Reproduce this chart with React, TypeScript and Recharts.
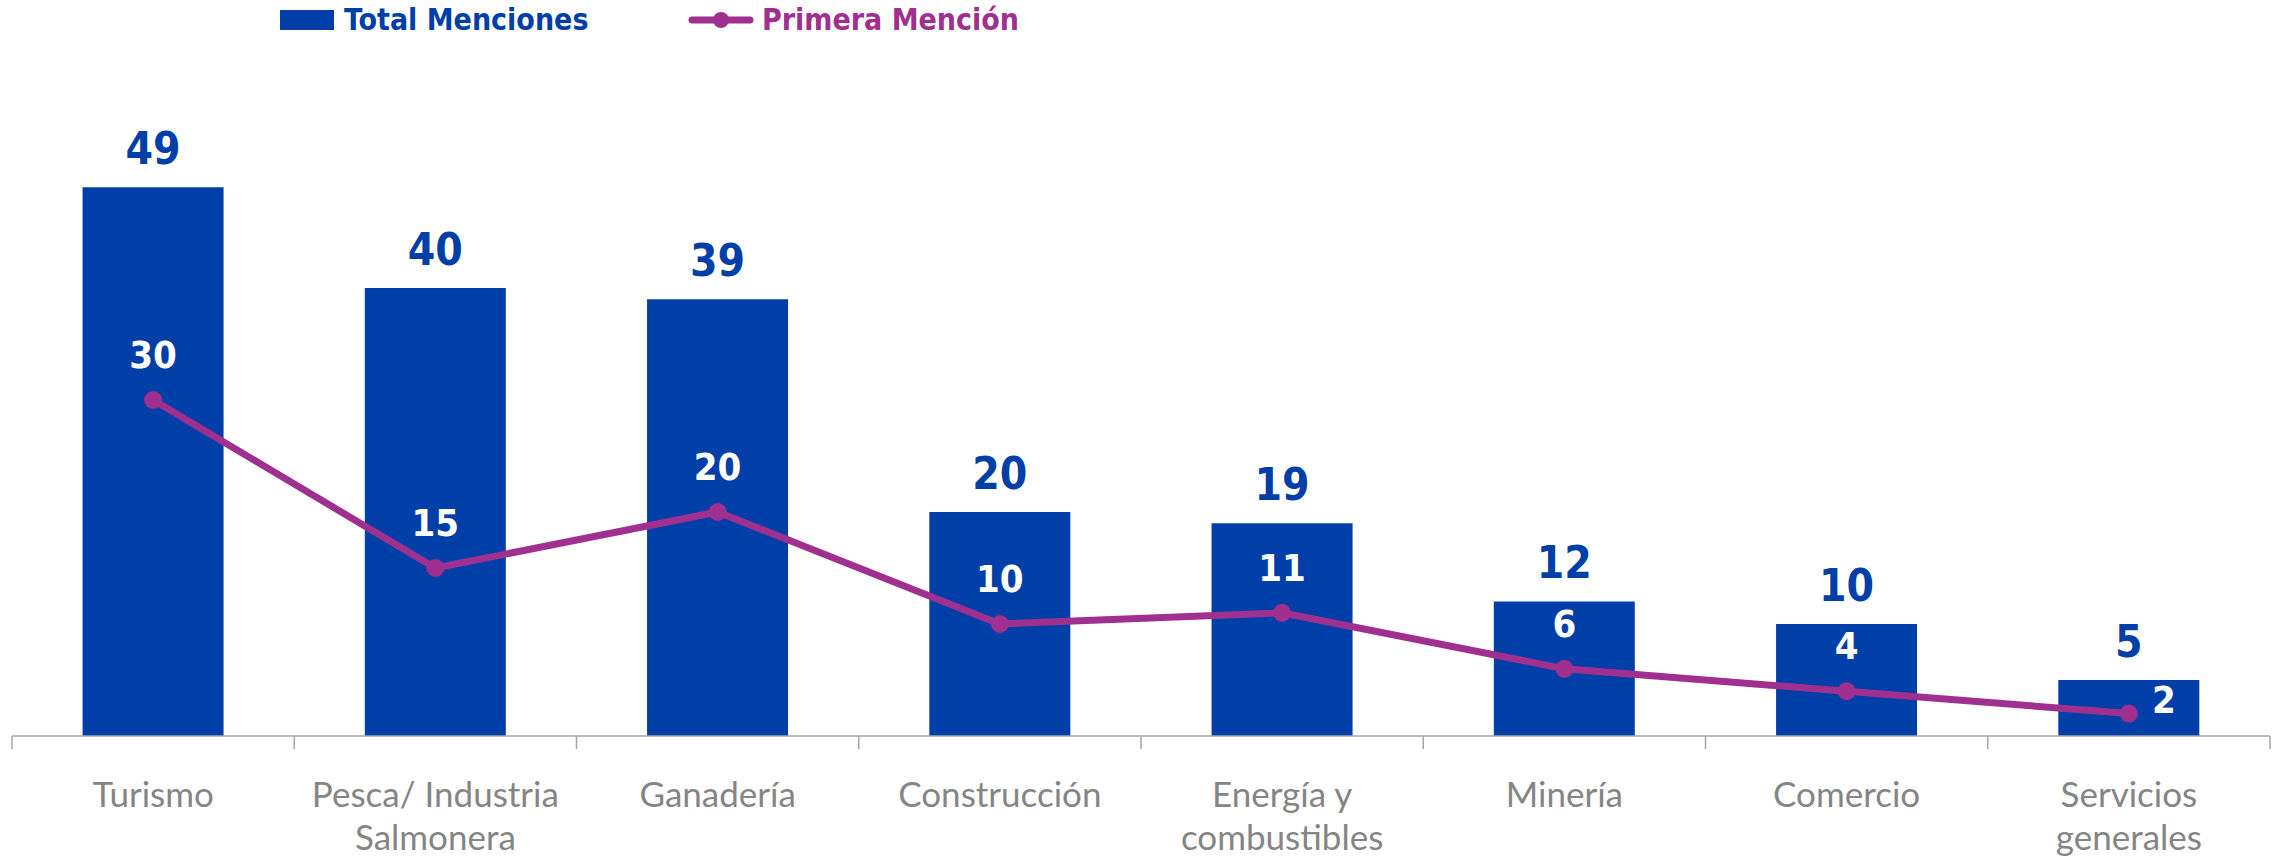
import { ComposedChart, Bar, Line, XAxis, YAxis, LabelList } from 'recharts';

// Sectors ("\n" marks where the axis label wraps)
const categories = [
  'Turismo',
  'Pesca/ Industria\nSalmonera',
  'Ganadería',
  'Construcción',
  'Energía y\ncombustibles',
  'Minería',
  'Comercio',
  'Servicios\ngenerales',
];
const totalMenciones = [49, 40, 39, 20, 19, 12, 10, 5];
const primeraMencion = [30, 15, 20, 10, 11, 6, 4, 2];

const BLUE = '#003FA8';
const PURPLE = '#A0308F';
const GRAY = '#858585';
const BOLD_FONT = "'DejaVu Sans Condensed', 'DejaVu Sans', sans-serif";

const W = 2277;
const H = 860;
const M = { top: 64, right: 7, bottom: 0, left: 12 };
const BAND = (W - M.left - M.right) / categories.length;

const data = categories.map((name, i) => ({
  name,
  total: totalMenciones[i],
  primera: primeraMencion[i],
}));

function AxisTick(props: any) {
  const { x, y, payload, index } = props;
  const lines = String(payload.value).split('\n');
  const left = x - BAND / 2;
  const right = x + BAND / 2;
  return (
    <g>
      <line x1={left} y1={y} x2={left} y2={y + 13} stroke="#a6a6a6" strokeWidth={1.5} />
      {index === categories.length - 1 && (
        <line x1={right} y1={y} x2={right} y2={y + 13} stroke="#a6a6a6" strokeWidth={1.5} />
      )}
      {lines.map((l, i) => (
        <text
          key={i}
          x={x}
          y={y + 57 + i * 43}
          textAnchor="middle"
          dominantBaseline="central"
          fill={GRAY}
          fontFamily="Lato, 'Open Sans', sans-serif"
          fontSize={35}
        >
          {l}
        </text>
      ))}
    </g>
  );
}

function BarValue(props: any) {
  const { x, y, width, value } = props;
  return (
    <text
      x={x + width / 2}
      y={y - 39}
      textAnchor="middle"
      dominantBaseline="central"
      fill={BLUE}
      fontFamily={BOLD_FONT}
      fontWeight="bold"
      fontSize={44}
    >
      {value}
    </text>
  );
}

function LineValue(props: any) {
  const { x, y, value, index } = props;
  const last = index === categories.length - 1;
  return (
    <text
      x={last ? x + 35 : x}
      y={last ? y - 14 : y - 45}
      textAnchor="middle"
      dominantBaseline="central"
      fill="#ffffff"
      fontFamily={BOLD_FONT}
      fontWeight="bold"
      fontSize={38}
    >
      {value}
    </text>
  );
}

function LegendRow() {
  const text = {
    fontFamily: BOLD_FONT,
    fontWeight: 'bold' as const,
    fontSize: 30,
    lineHeight: '40px',
  };
  return (
    <div style={{ position: 'absolute', left: 0, top: 0, height: 40, width: W }}>
      <div style={{ position: 'absolute', left: 280, top: 10, width: 54, height: 20, background: BLUE }} />
      <div style={{ ...text, position: 'absolute', left: 344, top: 0, color: BLUE }}>Total Menciones</div>
      <svg style={{ position: 'absolute', left: 688, top: 8 }} width={66} height={24}>
        <line x1={4} y1={12} x2={62} y2={12} stroke={PURPLE} strokeWidth={7} strokeLinecap="round" />
        <circle cx={33} cy={12} r={8} fill={PURPLE} />
      </svg>
      <div style={{ ...text, position: 'absolute', left: 762, top: 0, color: PURPLE }}>Primera Mención</div>
    </div>
  );
}

export default function App() {
  return (
    <div style={{ position: 'absolute', left: 0, top: 0, width: W, height: H, background: '#ffffff' }}>
      <ComposedChart width={W} height={H} data={data} margin={M} barCategoryGap="25%">
        <XAxis
          dataKey="name"
          interval={0}
          height={124}
          tickLine={false}
          tickSize={0}
          tickMargin={0}
          axisLine={{ stroke: '#a6a6a6', strokeWidth: 1.5 }}
          tick={<AxisTick />}
        />
        <YAxis hide domain={[0, 60]} />
        <Bar dataKey="total" fill={BLUE} isAnimationActive={false}>
          <LabelList dataKey="total" content={<BarValue />} />
        </Bar>
        <Line
          dataKey="primera"
          type="linear"
          stroke={PURPLE}
          strokeWidth={7}
          dot={{ r: 9, fill: PURPLE, stroke: PURPLE, strokeWidth: 0 }}
          isAnimationActive={false}
        >
          <LabelList dataKey="primera" content={<LineValue />} />
        </Line>
      </ComposedChart>
      <LegendRow />
    </div>
  );
}
